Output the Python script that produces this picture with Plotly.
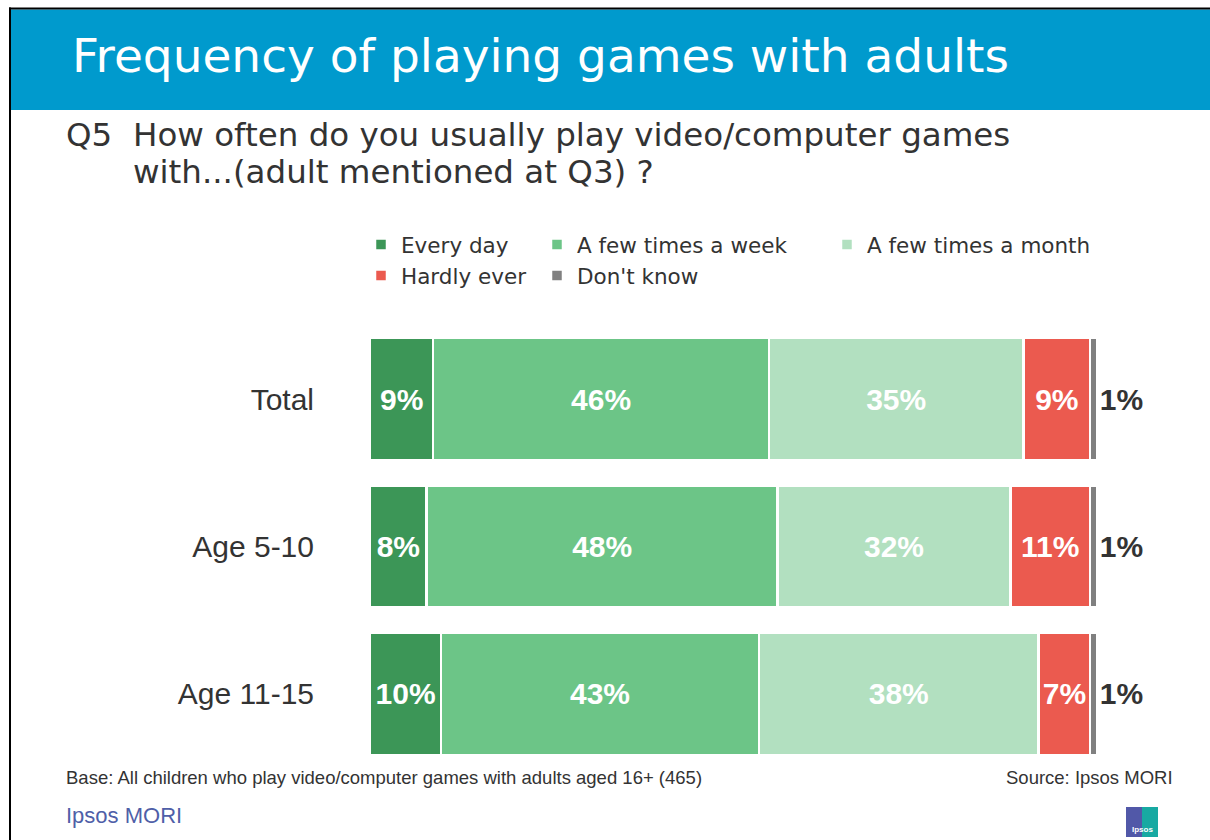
import plotly.graph_objects as go

# ---------------- data ----------------
categories = ["Total", "Age 5-10", "Age 11-15"]
series_names = ["Every day", "A few times a week", "A few times a month", "Hardly ever", "Don't know"]

# bar lengths (percent)
every_day = [8.7, 7.8, 9.8]
few_week = [46.2, 48.3, 43.7]
few_month = [35.0, 32.0, 38.5]
hardly_ever = [9.2, 11.0, 7.1]
dont_know = [0.9, 0.9, 0.9]

# printed labels (rounded percent)
every_day_lbl = [9, 8, 10]
few_week_lbl = [46, 48, 43]
few_month_lbl = [35, 32, 38]
hardly_ever_lbl = [9, 11, 7]
dont_know_lbl = [1, 1, 1]

colors = ["#3C9657", "#6CC587", "#B2E0C0", "#EB5A4F", "#808080"]
legend_ids = ["legend", "legend2", "legend3", "legend", "legend2"]

title_text = "Frequency of playing games with adults"
question_no = "Q5"
question_l1 = "How often do you usually play video/computer games"
question_l2 = "with...(adult mentioned at Q3) ?"
base_text = "Base: All children who play video/computer games with adults aged 16+ (465)"
source_text = "Source: Ipsos MORI"
brand_text = "Ipsos MORI"

# ---------------- layout helpers ----------------
W, H = 1210, 840


def px(x):
    return x / W


def py(y):
    return 1 - y / H


ARIAL = "Liberation Sans, Arial, sans-serif"
WIDE = "DejaVu Sans, sans-serif"
DARK = "#333333"

values = [every_day, few_week, few_month, hardly_ever, dont_know]
labels = [every_day_lbl, few_week_lbl, few_month_lbl, hardly_ever_lbl, dont_know_lbl]

fig = go.Figure()
for i, name in enumerate(series_names):
    last = i == len(series_names) - 1
    fig.add_trace(go.Bar(
        name=name,
        y=categories,
        x=values[i],
        orientation="h",
        marker=dict(color=colors[i], line=dict(color="white", width=2.5)),
        text=[f"{v}%" for v in labels[i]],
        textposition="outside" if last else "inside",
        insidetextanchor="middle",
        textangle=0,
        constraintext="none",
        textfont=dict(family=ARIAL, size=30, weight="bold",
                      color=DARK if last else "white"),
        cliponaxis=False,
        width=0.83,
        legend=legend_ids[i],
        hoverinfo="skip",
    ))

leg_common = dict(
    orientation="v",
    traceorder="normal",
    font=dict(family=WIDE, size=21.5, color=DARK),
    bgcolor="rgba(0,0,0,0)",
    xanchor="left",
    yanchor="top",
    xref="paper",
    yref="paper",
    itemclick=False,
    itemdoubleclick=False,
)

shapes = [
    # blue title band
    dict(type="rect", xref="paper", yref="paper", x0=px(11), x1=px(1212), y0=py(110), y1=py(9.5),
         fillcolor="#009ACD", line=dict(width=0), layer="below"),
    # slide frame lines
    dict(type="line", xref="paper", yref="paper", x0=px(10), x1=px(10), y0=py(7.5), y1=py(842),
         line=dict(color="black", width=2)),
    dict(type="line", xref="paper", yref="paper", x0=px(9), x1=px(1212), y0=py(8.5), y1=py(8.5),
         line=dict(color="black", width=2)),
    # small logo
    dict(type="rect", xref="paper", yref="paper", x0=px(1126), x1=px(1142), y0=py(837), y1=py(807),
         fillcolor="#5158A8", line=dict(width=0)),
    dict(type="rect", xref="paper", yref="paper", x0=px(1142), x1=px(1158), y0=py(837), y1=py(807),
         fillcolor="#17A9A2", line=dict(width=0)),
]

annotations = [
    dict(text=title_text, x=px(70), y=py(56), xanchor="left", yanchor="middle",
         font=dict(family=WIDE, size=47, color="white")),
    dict(text=question_no, x=px(64), y=py(135), xanchor="left", yanchor="middle",
         font=dict(family=WIDE, size=32.5, color=DARK)),
    dict(text=question_l1, x=px(131), y=py(135), xanchor="left", yanchor="middle",
         font=dict(family=WIDE, size=32.5, color=DARK)),
    dict(text=question_l2, x=px(131), y=py(172), xanchor="left", yanchor="middle",
         font=dict(family=WIDE, size=32.5, color=DARK)),
    dict(text=base_text, x=px(64), y=py(777), xanchor="left", yanchor="middle",
         font=dict(family=ARIAL, size=18.5, color=DARK)),
    dict(text=source_text, x=px(1175), y=py(777), xanchor="right", yanchor="middle",
         font=dict(family=ARIAL, size=18.5, color=DARK)),
    dict(text=brand_text, x=px(64), y=py(815), xanchor="left", yanchor="middle",
         font=dict(family=ARIAL, size=22, color="#4F5FA8")),
    dict(text="Ipsos", x=px(1142), y=py(829), xanchor="center", yanchor="middle",
         font=dict(family=ARIAL, size=8, color="white", weight="bold")),
]
for a in annotations:
    a.update(xref="paper", yref="paper", showarrow=False)

fig.update_layout(
    width=W,
    height=H,
    margin=dict(l=0, r=0, t=0, b=0),
    paper_bgcolor="white",
    plot_bgcolor="white",
    barmode="stack",
    showlegend=True,
    legend=dict(x=px(361), y=py(224), **leg_common),
    legend2=dict(x=px(537), y=py(224), **leg_common),
    legend3=dict(x=px(827), y=py(224), **leg_common),
    xaxis=dict(domain=[px(370), px(1097.5)], range=[0, 100.1], visible=False, fixedrange=True),
    yaxis=dict(domain=[py(767.7), py(325.3)], type="category", categoryorder="array",
               categoryarray=categories, range=[2.5, -0.5], showgrid=False, zeroline=False,
               showline=False, ticks="", ticklabelstandoff=55,
               tickfont=dict(family=ARIAL, size=30, color=DARK), fixedrange=True),
    shapes=shapes,
    annotations=annotations,
)

fig.write_html(
    "out.html",
    config={"displayModeBar": False},
    post_script="document.body.style.margin='0';document.body.style.overflow='hidden';",
)
